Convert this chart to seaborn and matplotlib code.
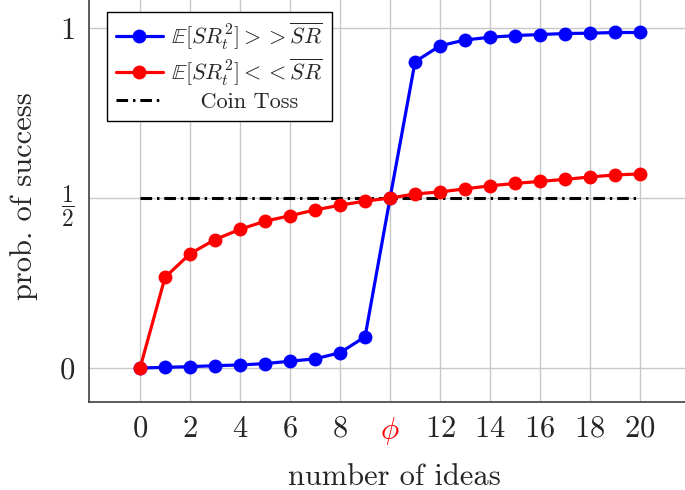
import matplotlib
matplotlib.use("Agg")
import matplotlib.pyplot as plt
import seaborn as sns
import pandas as pd

# number of ideas tried
ideas = list(range(21))
# success probability when expected squared Sharpe exceeds the threshold
p_high = [0.0, 0.002, 0.004, 0.007, 0.009, 0.013, 0.020, 0.027, 0.045, 0.092, 0.5,
          0.901, 0.948, 0.965, 0.973, 0.978, 0.981, 0.984, 0.985, 0.987, 0.987]
# success probability when expected squared Sharpe is below the threshold
p_low = [0.0, 0.267, 0.336, 0.378, 0.408, 0.432, 0.448, 0.465, 0.479, 0.491, 0.5,
         0.512, 0.518, 0.527, 0.536, 0.543, 0.549, 0.555, 0.562, 0.568, 0.571]
# fair coin reference
coin = [0.5] * 21

x_ticks = [0, 2, 4, 6, 8, 10, 12, 14, 16, 18, 20]
x_tick_labels = ["$0$", "$2$", "$4$", "$6$", "$8$", r"$\phi$", "$12$", "$14$", "$16$", "$18$", "$20$"]
y_ticks = [0, 0.5, 1]
y_tick_labels = ["$0$", r"$\dfrac{1}{2}$", "$1$"]

label_high = r"$\mathbb{E}[SR_t^2] >> \overline{SR}$"
label_low = r"$\mathbb{E}[SR_t^2] << \overline{SR}$"
label_coin = "    Coin Toss"

sns.set_style("white")
plt.rcParams["font.family"] = "serif"
plt.rcParams["font.serif"] = ["cmr10", "DejaVu Serif"]
plt.rcParams["mathtext.fontset"] = "cm"
plt.rcParams["axes.unicode_minus"] = False
plt.rcParams["axes.formatter.use_mathtext"] = True

df = pd.DataFrame({
    "ideas": ideas * 2,
    "prob": p_high + p_low,
    "series": [label_high] * 21 + [label_low] * 21,
})
coin_df = pd.DataFrame({"ideas": ideas, "prob": coin})

fig = plt.figure(figsize=(6.85, 4.90), dpi=100)
ax = fig.add_axes([0.130, 0.1806, 0.892, 0.8398])

ax.grid(True, color="#c8c8c8", linewidth=1.0, zorder=0)
ax.set_axisbelow(True)

sns.lineplot(data=coin_df, x="ideas", y="prob", ax=ax, color="black",
             linewidth=2.2, dashes=False, label=label_coin, zorder=2)
ax.lines[-1].set_dashes((3.8, 1.6, 0.8, 1.6))

sns.lineplot(data=df, x="ideas", y="prob", hue="series",
             palette={label_high: "#0000ff", label_low: "#ff0000"},
             marker="o", markersize=10, markeredgewidth=0,
             linewidth=2.3, ax=ax, zorder=3)

ax.set_xlim(-2.04, 22.4)
ax.set_ylim(-0.0985, 1.112)
ax.set_xticks(x_ticks)
ax.set_xticklabels(x_tick_labels, fontsize=22)
ax.get_xticklabels()[5].set_color("#ff0000")
ax.set_yticks(y_ticks)
ax.set_yticklabels(y_tick_labels, fontsize=22)
ax.tick_params(axis="both", direction="in", length=7, width=1, color="#808080",
               pad=10)
ax.tick_params(axis="y", labelsize=22)
for t in ax.get_yticklabels():
    if "frac" in t.get_text():
        t.set_fontsize(17)

for side in ["left", "bottom", "top", "right"]:
    ax.spines[side].set_color("#404040")
    ax.spines[side].set_linewidth(1.2)

ax.set_xlabel("number of ideas", fontsize=22, labelpad=12)
ax.set_ylabel("prob. of success", fontsize=22, labelpad=15)

handles, labels = ax.get_legend_handles_labels()
order = [labels.index(label_high), labels.index(label_low), labels.index(label_coin)]
leg = ax.legend([handles[i] for i in order], [labels[i] for i in order],
                loc="upper left", bbox_to_anchor=(107 / 685, 1 - 12 / 490),
                bbox_transform=fig.transFigure, borderaxespad=0,
                fontsize=16, handlelength=2.1, labelspacing=0.2,
                fancybox=False, framealpha=1, edgecolor="black",
                borderpad=0.4, handletextpad=0.4)
leg.get_frame().set_linewidth(1.0)

fig.savefig("out.png", dpi=100)
